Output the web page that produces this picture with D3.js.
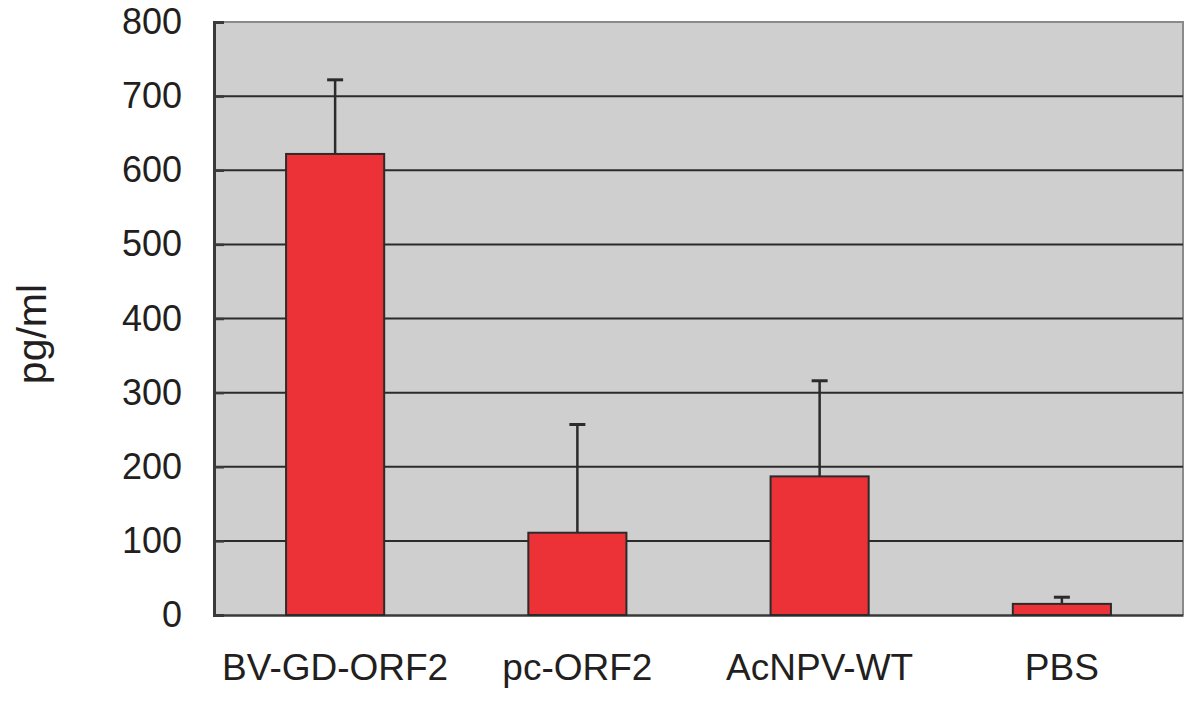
<!DOCTYPE html>
<meta charset="utf-8">
<script src="https://d3js.org/d3.v7.min.js"></script>
<style>
  body { margin: 0; background: #fff; }
  text { font-family: "Liberation Sans", Arial, sans-serif; fill: #231f20; }
</style>
<div id="chart"></div>
<script>
// data
var groups = ["BV-GD-ORF2", "pc-ORF2", "AcNPV-WT", "PBS"];
var means  = [622, 111, 187, 15];
var errors = [100, 146, 129, 9];
var yTicks = [0, 100, 200, 300, 400, 500, 600, 700, 800];

var margin = {top: 22, right: 17, bottom: 90, left: 214},
    width = 1200 - margin.left - margin.right,
    height = 705 - margin.top - margin.bottom;

var svg = d3.select("#chart")
  .append("svg")
    .attr("width", 1200)
    .attr("height", 705)
  .append("g")
    .attr("transform", "translate(" + margin.left + "," + margin.top + ")");

var x = d3.scaleBand()
  .domain(groups)
  .range([0, width])
  .paddingInner(0.595)
  .paddingOuter(0.2975);

var y = d3.scaleLinear()
  .domain([0, 800])
  .range([height, 0]);

// plot background
svg.append("rect")
  .attr("width", width)
  .attr("height", height)
  .attr("fill", "#cfcfcf");

// top + right border, lighter
svg.append("path")
  .attr("d", "M0,0H" + width + "V" + height)
  .attr("fill", "none")
  .attr("stroke", "#8a8a8a")
  .attr("stroke-width", 2);

// gridlines
svg.selectAll(".grid")
  .data(yTicks.filter(function(d) { return d > 0 && d < 800; }))
  .enter()
  .append("line")
    .attr("x1", 0)
    .attr("x2", width)
    .attr("y1", function(d) { return y(d); })
    .attr("y2", function(d) { return y(d); })
    .attr("stroke", "#2b2b2b")
    .attr("stroke-width", 2);

// y axis
var yAxis = svg.append("g")
  .call(d3.axisLeft(y).tickValues(yTicks).tickSize(-10).tickPadding(32));
yAxis.select(".domain").attr("stroke", "#3a3a3a").attr("stroke-width", 3);
yAxis.selectAll(".tick line").attr("stroke", "#3a3a3a").attr("stroke-width", 2.5);
yAxis.selectAll("text")
  .attr("font-size", 36)
  .attr("font-family", "Liberation Sans, Arial, sans-serif")
  .attr("fill", "#231f20");

// x axis
var xAxis = svg.append("g")
  .attr("transform", "translate(0," + height + ")")
  .call(d3.axisBottom(x).tickSize(0).tickPadding(39));
xAxis.select(".domain").attr("stroke", "#3a3a3a").attr("stroke-width", 2.5);
xAxis.selectAll("text")
  .attr("font-size", 37)
  .attr("font-family", "Liberation Sans, Arial, sans-serif")
  .attr("fill", "#231f20");

var data = groups.map(function(g, i) { return {g: g, v: means[i], e: errors[i]}; });

// error bars (upper only)
svg.selectAll(".err")
  .data(data)
  .enter()
  .append("line")
    .attr("x1", function(d) { return x(d.g) + x.bandwidth() / 2; })
    .attr("x2", function(d) { return x(d.g) + x.bandwidth() / 2; })
    .attr("y1", function(d) { return y(d.v); })
    .attr("y2", function(d) { return y(d.v + d.e); })
    .attr("stroke", "#2b2b2b")
    .attr("stroke-width", 2.5);

svg.selectAll(".cap")
  .data(data)
  .enter()
  .append("line")
    .attr("x1", function(d) { return x(d.g) + x.bandwidth() / 2 - 8; })
    .attr("x2", function(d) { return x(d.g) + x.bandwidth() / 2 + 8; })
    .attr("y1", function(d) { return y(d.v + d.e); })
    .attr("y2", function(d) { return y(d.v + d.e); })
    .attr("stroke", "#2b2b2b")
    .attr("stroke-width", 3);

// bars
svg.selectAll(".bar")
  .data(data)
  .enter()
  .append("rect")
    .attr("x", function(d) { return x(d.g); })
    .attr("y", function(d) { return y(d.v); })
    .attr("width", x.bandwidth())
    .attr("height", function(d) { return height - y(d.v); })
    .attr("fill", "#ec3237")
    .attr("stroke", "#2b2b2b")
    .attr("stroke-width", 2);

// y title
svg.append("text")
  .attr("transform", "translate(" + (46 - margin.left) + "," + (334 - margin.top) + ")rotate(-90)")
  .attr("text-anchor", "middle")
  .attr("font-size", 41)
  .text("pg/ml");
</script>
